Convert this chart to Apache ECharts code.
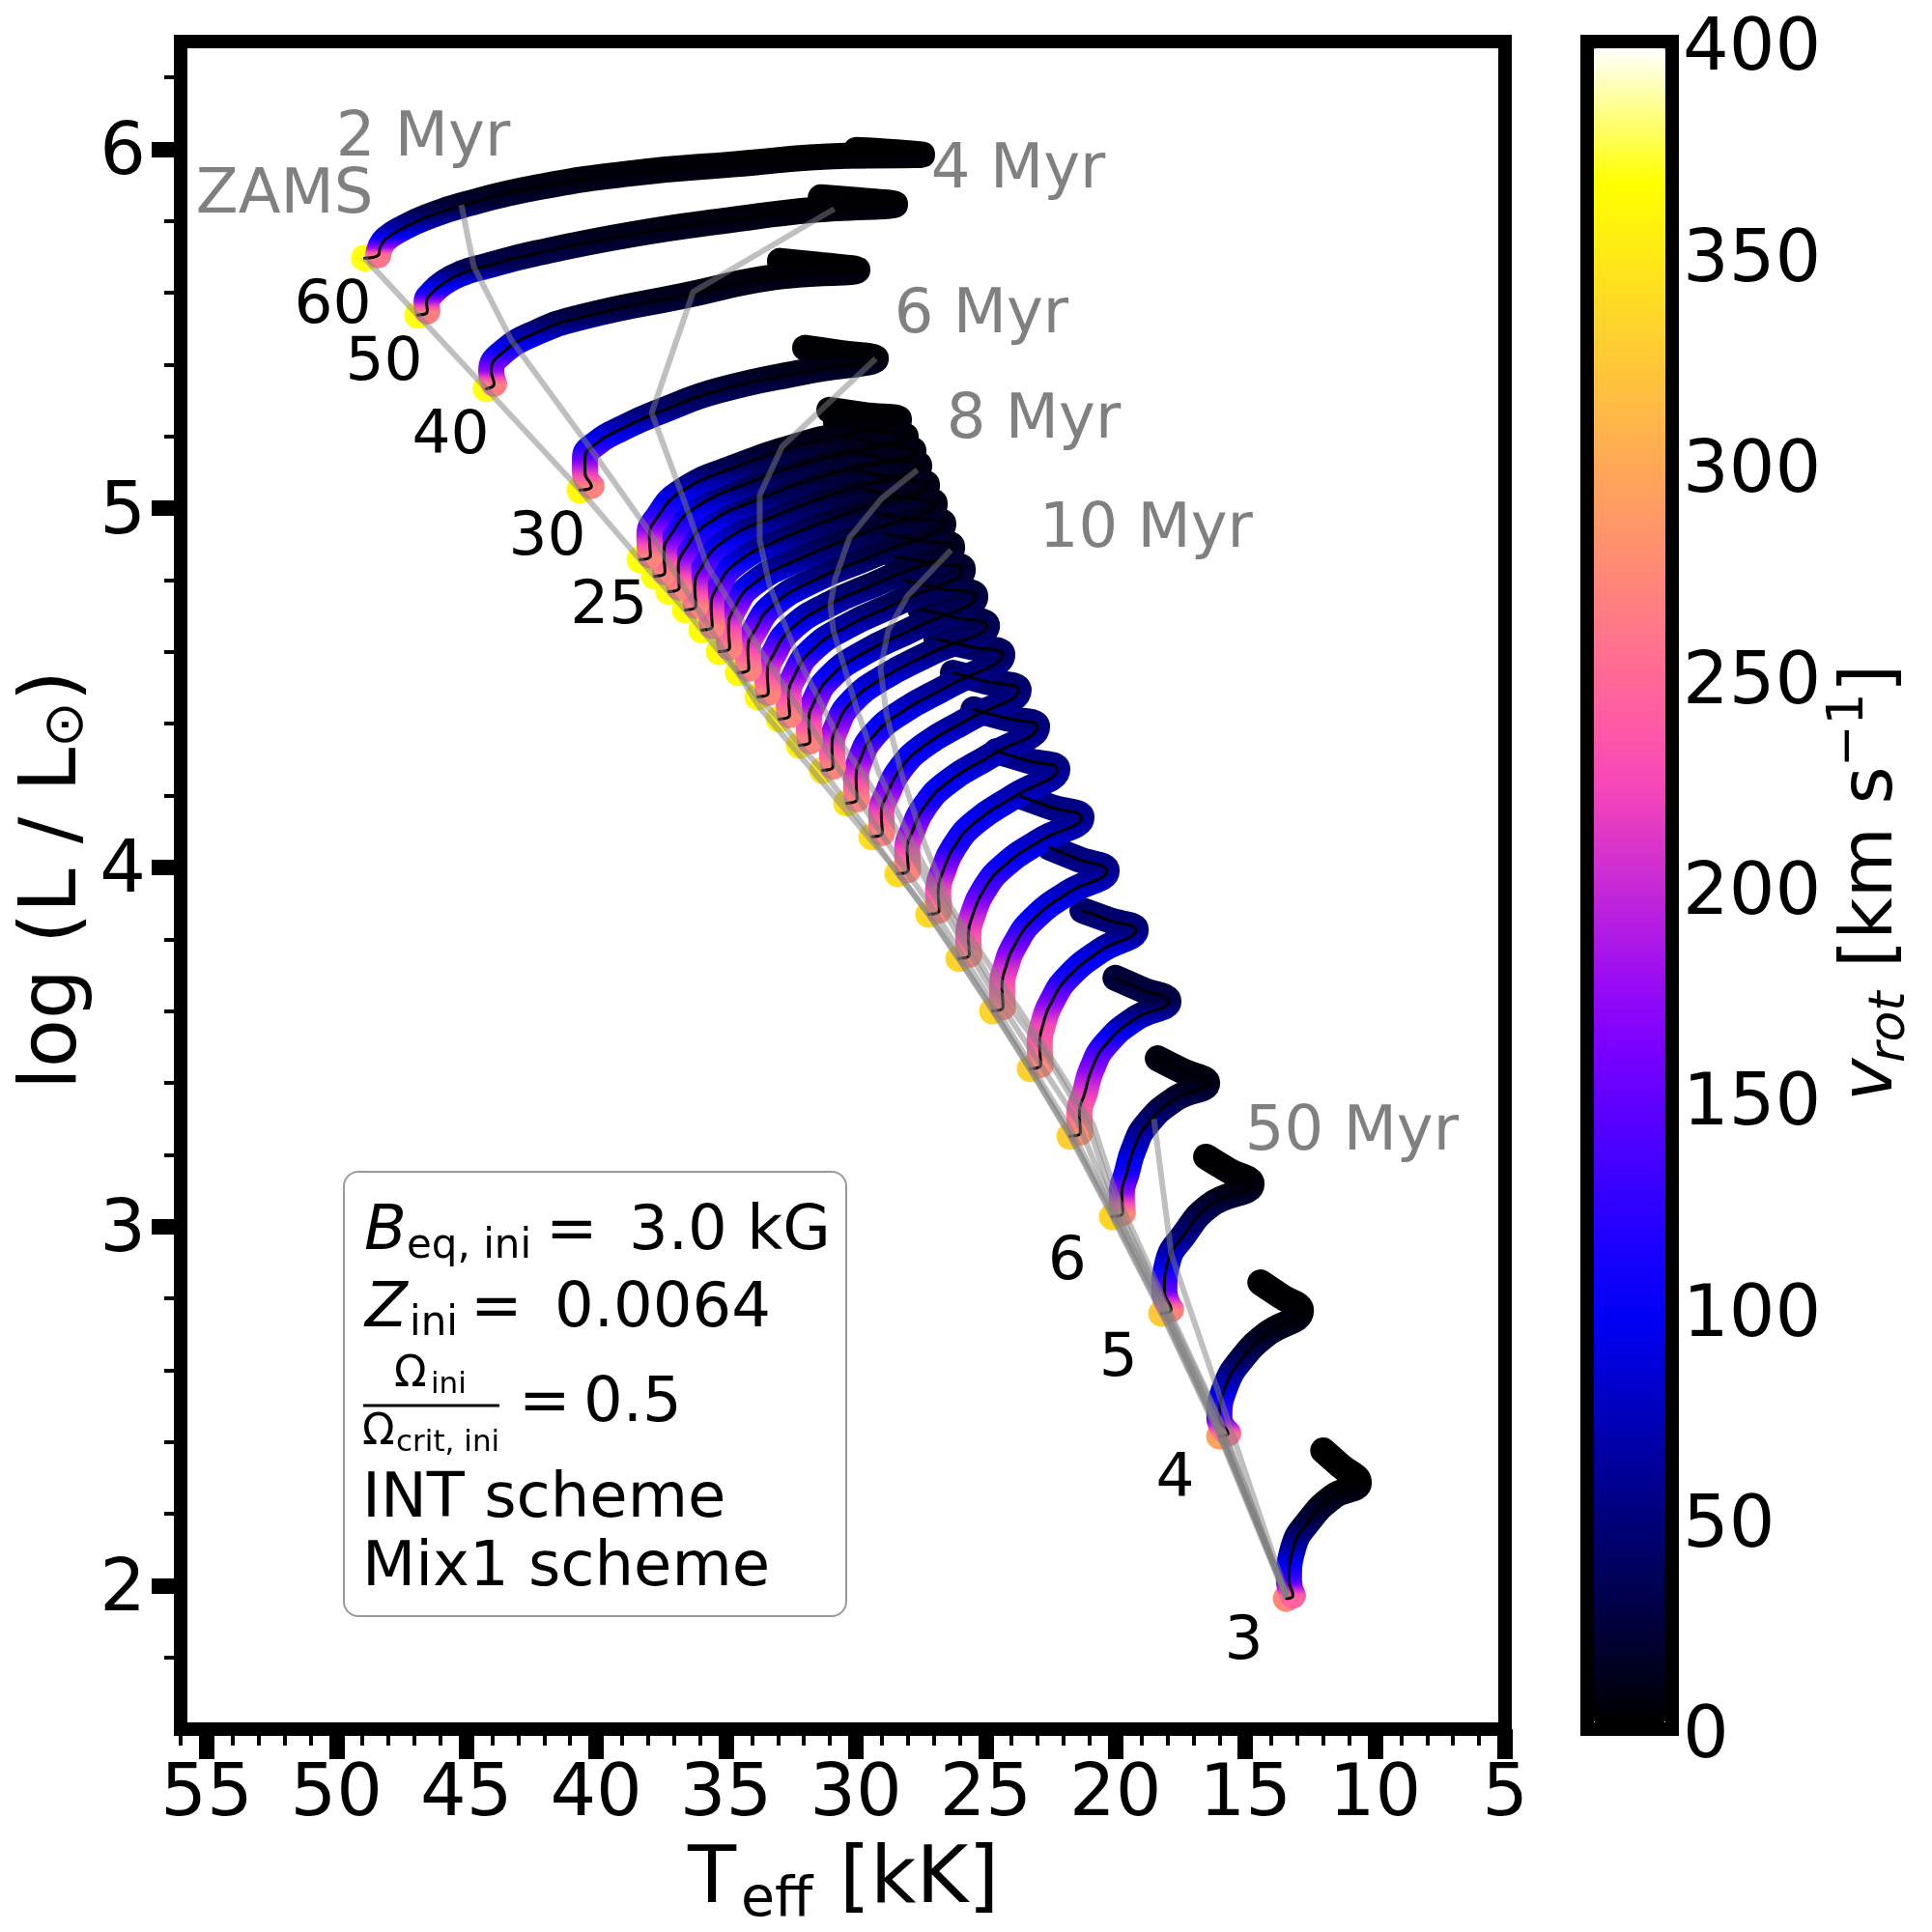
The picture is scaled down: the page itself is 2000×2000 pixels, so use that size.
<!DOCTYPE html>
<html>
<head>
<meta charset="utf-8">
<title>HRD tracks</title>
<script src="https://cdn.jsdelivr.net/npm/echarts@6/dist/echarts.min.js"></script>
<style>
  html, body { margin: 0; padding: 0; background: #fff; }
  #main { width: 2000px; height: 2000px; }
</style>
</head>
<body>
<div id="main"></div>
<script>
// each track: [Teff kK, log L, vrot km/s], ZAMS first, hook end last
const m60 = [[48.92,5.697,370],[48.39,5.705,260],[48.32,5.726,175],[48.10,5.750,110],[47.46,5.780,70],[46.50,5.812,45],[45.12,5.845,22],[42.33,5.893,10],[38.54,5.934,5],[34.74,5.958,3],[30.39,5.982,2],[27.45,5.985,1],[28.75,5.993,1],[29.98,5.998,0]];
const m50 = [[46.87,5.538,370],[46.50,5.549,265],[46.53,5.576,180],[46.35,5.597,120],[45.86,5.629,85],[45.12,5.656,55],[44.38,5.672,35],[42.33,5.710,25],[38.54,5.764,12],[34.74,5.804,6],[31.69,5.831,4],[28.49,5.847,2],[29.94,5.858,2],[31.35,5.866,1]];
const m40 = [[44.23,5.333,370],[43.93,5.347,265],[44.04,5.382,175],[43.67,5.430,115],[42.33,5.489,65],[40.43,5.535,30],[36.64,5.592,12],[33.21,5.643,6],[29.94,5.664,3],[31.43,5.678,2],[32.92,5.689,1]];
const m30 = [[40.62,5.051,365],[40.18,5.062,270],[40.43,5.099,215],[40.43,5.140,150],[40.06,5.177,110],[38.91,5.226,75],[37.38,5.274,45],[35.30,5.328,28],[31.87,5.382,12],[29.23,5.417,5],[30.61,5.433,3],[31.95,5.447,2]];
const m25 = [[38.31,4.857,370],[37.91,4.868,270],[37.95,4.922,195],[37.61,4.978,125],[36.76,5.045,85],[34.72,5.113,35],[31.73,5.185,12],[28.34,5.247,3],[29.68,5.260,2],[31.02,5.274,1]];
const m24 = [[37.75,4.811,370],[37.35,4.822,270],[37.39,4.876,198],[37.07,4.932,130],[36.25,4.999,88],[34.27,5.067,38],[31.36,5.139,14],[28.08,5.199,4],[29.42,5.219,3],[30.76,5.239,2]];
const m23 = [[37.20,4.768,370],[36.80,4.779,270],[36.84,4.833,200],[36.54,4.889,135],[35.74,4.956,90],[33.81,5.024,40],[30.99,5.096,16],[27.78,5.159,5],[29.14,5.180,4],[30.50,5.202,3]];
const m22 = [[36.56,4.717,368],[36.16,4.728,270],[36.20,4.782,205],[35.93,4.838,140],[35.16,4.905,92],[33.32,4.973,44],[30.62,5.045,18],[27.56,5.118,6],[28.90,5.138,5],[30.24,5.159,4]];
const m21 = [[35.93,4.661,368],[35.53,4.672,270],[35.57,4.726,210],[35.32,4.782,150],[34.59,4.849,95],[32.81,4.917,48],[30.21,4.989,20],[27.26,5.064,7],[28.60,5.085,6],[29.94,5.105,5]];
const m20 = [[35.26,4.601,365],[34.86,4.612,270],[34.90,4.666,225],[34.68,4.722,165],[33.97,4.789,95],[32.27,4.857,52],[29.78,4.929,24],[26.96,5.013,8],[28.28,5.032,7],[29.60,5.051,6]];
const m19 = [[34.52,4.542,365],[34.12,4.553,270],[34.16,4.607,225],[33.87,4.663,165],[33.20,4.730,98],[31.68,4.798,58],[29.31,4.870,28],[26.63,4.957,10],[27.93,4.972,9],[29.23,4.986,8]];
const m18 = [[33.77,4.475,362],[33.37,4.486,270],[33.41,4.540,225],[33.15,4.596,165],[32.51,4.663,100],[31.08,4.731,62],[28.83,4.803,32],[26.29,4.892,14],[27.61,4.911,12],[28.93,4.930,10]];
const m17 = [[32.95,4.413,360],[32.55,4.424,270],[32.59,4.478,225],[32.36,4.534,170],[31.75,4.601,102],[30.40,4.669,68],[28.28,4.741,36],[25.88,4.830,20],[27.18,4.848,18],[28.49,4.865,15]];
const m16 = [[32.17,4.340,355],[31.77,4.351,270],[31.81,4.405,225],[31.60,4.461,170],[31.02,4.528,105],[29.73,4.596,74],[27.70,4.668,42],[25.40,4.755,26],[26.74,4.777,23],[28.08,4.798,20]];
const m15 = [[31.28,4.270,350],[30.88,4.281,270],[30.92,4.335,225],[30.74,4.391,170],[30.20,4.458,108],[29.00,4.526,80],[27.10,4.598,50],[24.95,4.674,33],[26.24,4.697,30],[27.52,4.720,26]];
const m14 = [[30.35,4.179,345],[29.95,4.190,270],[29.99,4.244,225],[29.83,4.300,170],[29.32,4.367,110],[28.19,4.435,86],[26.40,4.507,56],[24.36,4.593,40],[25.62,4.615,38],[26.89,4.636,35]];
const m13 = [[29.38,4.085,342],[28.98,4.096,270],[29.02,4.150,228],[28.78,4.206,172],[28.30,4.273,112],[27.34,4.341,90],[25.65,4.413,60],[23.73,4.494,45],[25.00,4.518,42],[26.26,4.542,40]];
const m12 = [[28.38,3.982,340],[27.98,3.993,270],[28.02,4.047,228],[27.81,4.103,175],[27.35,4.170,112],[26.45,4.238,95],[24.84,4.310,65],[23.02,4.392,50],[24.24,4.416,48],[25.47,4.440,45]];
const m11 = [[27.19,3.869,338],[26.79,3.880,270],[26.83,3.934,228],[26.64,3.990,175],[26.22,4.057,112],[25.41,4.125,100],[23.92,4.197,75],[22.24,4.273,55],[23.41,4.298,52],[24.58,4.324,50]];
const m10 = [[26.03,3.746,335],[25.63,3.757,270],[25.67,3.811,230],[25.50,3.867,195],[25.10,3.934,140],[24.33,4.002,105],[22.91,4.074,78],[21.31,4.139,55],[22.48,4.168,53],[23.65,4.198,50]];
const m9 = [[24.73,3.600,335],[24.33,3.611,270],[24.37,3.665,235],[24.23,3.721,205],[23.85,3.788,150],[23.16,3.856,105],[21.86,3.928,80],[20.34,3.991,55],[21.43,4.023,52],[22.53,4.055,50]];
const m8 = [[23.28,3.439,332],[22.88,3.450,275],[22.92,3.504,240],[22.80,3.560,225],[22.45,3.627,165],[21.82,3.695,110],[20.60,3.767,85],[19.22,3.826,48],[20.24,3.853,45],[21.27,3.880,42]];
const m7 = [[21.75,3.251,330],[21.35,3.262,280],[21.39,3.316,245],[21.18,3.372,215],[20.91,3.439,170],[20.38,3.507,120],[19.24,3.579,65],[17.96,3.627,28],[18.98,3.660,25],[20.00,3.692,22]];
const m6 = [[20.12,3.027,335],[19.72,3.038,275],[19.76,3.092,175],[19.57,3.148,110],[19.30,3.215,80],[18.81,3.283,50],[17.71,3.355,25],[16.47,3.399,8],[17.42,3.433,6],[18.37,3.468,5]];
const m5 = [[18.22,2.758,325],[17.86,2.769,270],[18.12,2.820,150],[17.99,2.901,85],[17.40,2.973,50],[16.36,3.059,22],[14.76,3.119,3],[15.65,3.156,2],[16.51,3.194,1]];
const m4 = [[15.99,2.416,295],[15.66,2.424,255],[16.00,2.467,140],[15.76,2.556,75],[15.13,2.632,35],[14.20,2.699,12],[12.86,2.766,2],[13.64,2.806,1],[14.42,2.844,1]];
const m3 = [[13.42,1.964,275],[13.17,1.972,245],[13.32,2.015,130],[13.16,2.104,65],[12.56,2.179,25],[11.63,2.247,8],[10.63,2.287,1],[11.33,2.333,0],[12.00,2.376,0]];

const tracks = [m3, m4, m5, m6, m7, m8, m9, m10, m11, m12, m13, m14, m15, m16, m17, m18, m19, m20, m21, m22, m23, m24, m25, m30, m40, m50, m60];

// isochrones [Teff kK, log L]
const iso2 = [[45.19,5.845],[44.71,5.673],[43.26,5.468],[40.43,5.188],[37.98,4.938],[36.19,4.731],[33.70,4.445],[31.24,4.233],[28.49,3.996],[27.26,3.875],[24.73,3.606],[21.75,3.256],[20.12,3.032],[18.22,2.763],[15.99,2.422],[13.42,1.970]];
const iso4 = [[30.83,5.834],[36.26,5.603],[37.86,5.266],[36.64,5.027],[35.71,4.838],[33.70,4.607],[31.24,4.338],[28.12,3.996],[27.07,3.888],[24.66,3.614],[21.68,3.264],[20.08,3.040],[18.18,2.771],[15.99,2.427],[13.42,1.970]];
const iso6 = [[29.23,5.417],[32.84,5.172],[33.70,5.037],[33.70,4.911],[33.32,4.784],[32.21,4.580],[30.50,4.338],[29.75,4.265],[28.19,4.077],[26.81,3.902],[24.66,3.646],[21.49,3.296],[20.08,3.054],[18.18,2.779],[15.99,2.435],[13.42,1.970]];
const iso8 = [[27.63,5.107],[29.01,5.027],[30.24,4.919],[30.80,4.803],[30.98,4.731],[30.87,4.661],[29.98,4.445],[29.12,4.265],[27.71,4.050],[26.59,3.902],[24.66,3.668],[22.61,3.471],[21.01,3.275],[20.12,3.081],[18.22,2.798],[15.99,2.457],[13.42,1.970]];
const iso10 = [[26.33,4.884],[28.00,4.757],[28.75,4.661],[29.05,4.553],[28.82,4.426],[28.26,4.265],[27.34,4.063],[26.33,3.888],[24.47,3.686],[22.61,3.485],[20.86,3.283],[20.00,3.094],[18.14,2.798],[15.99,2.462],[13.42,1.970]];
const iso50 = [[18.52,3.299],[17.85,2.922],[16.10,2.551],[13.42,1.977]];

// annotations [Teff kK, log L, text]
const massLabels = [[50.14,5.561,'60'],[48.17,5.403,'50'],[45.60,5.198,'40'],[41.88,4.915,'30'],[39.51,4.724,'25'],[21.86,2.897,'6'],[19.89,2.628,'5'],[17.70,2.292,'4'],[15.06,1.840,'3']];
const ageLabels = [[55.43,5.869,'ZAMS'],[50.04,6.028,'2 Myr'],[27.12,5.939,'4 Myr'],[28.54,5.535,'6 Myr'],[26.53,5.242,'8 Myr'],[22.96,4.938,'10 Myr'],[15.03,3.259,'50 Myr']];

const xMajorTicks = [5, 10, 15, 20, 25, 30, 35, 40, 45, 50, 55];
const xMinorTicks = [6,7,8,9,11,12,13,14,16,17,18,19,21,22,23,24,26,27,28,29,31,32,33,34,36,37,38,39,41,42,43,44,46,47,48,49,51,52,53,54,56];
const yMajorTicks = [2, 3, 4, 5, 6];
const yMinorTicks = [1.8,2.2,2.4,2.6,2.8,3.2,3.4,3.6,3.8,4.2,4.4,4.6,4.8,5.2,5.4,5.6,5.8,6.2];

// gnuplot2 sampled every 16 km/s
const vrotColors = ['#000000','#000029','#000052','#00007A','#0000A3','#0000CC','#0000F5','#1800FF','#3800FF','#5800FF','#7800FF','#970AF5','#B71FE0','#D733CC','#F747B8','#FF5CA3','#FF708F','#FF857A','#FF9966','#FFAD52','#FFC23D','#FFD629','#FFEB14','#FFFF00','#FFFF80','#FFFFFF'];

const FONT = 'DejaVu Sans';
const chart = echarts.init(document.getElementById('main'));

function vColor(v) {
  return echarts.color.lerp(v / 400, vrotColors);
}

// baseline-positioned text, for the mathtext pieces
function piece(text, x, baseline, size, extra) {
  return {
    type: 'text',
    x: x,
    y: baseline - 0.25 * size,
    z: 20,
    style: Object.assign({
      text: text, fontFamily: FONT, fontSize: size, fill: '#000',
      align: 'left', verticalAlign: 'middle'
    }, extra || {})
  };
}
const ITALIC = { fontStyle: 'italic' };

chart.setOption({
  animation: false,
  backgroundColor: '#fff',
  grid: [
    { left: 187, top: 43, width: 1371, height: 1747, show: true, borderWidth: 14, borderColor: '#000', backgroundColor: '#fff' },
    { left: 1643, top: 43, width: 88, height: 1747, show: true, borderWidth: 14, borderColor: '#000', backgroundColor: 'transparent' }
  ],
  xAxis: [
    {
      gridIndex: 0, type: 'value', inverse: true, min: 5, max: 56, position: 'bottom', splitLine: { show: false }, axisLine: { show: false },
      axisTick: { show: true, length: 31, lineStyle: { width: 16, color: '#000' }, customValues: xMajorTicks },
      axisLabel: { show: true, customValues: xMajorTicks, margin: 32, fontSize: 75, fontFamily: FONT, color: '#000' }
    },
    {
      gridIndex: 0, type: 'value', inverse: true, min: 5, max: 56, position: 'bottom', splitLine: { show: false }, axisLine: { show: false },
      axisTick: { show: true, length: 17, lineStyle: { width: 4, color: '#000' }, customValues: xMinorTicks },
      axisLabel: { show: false }
    },
    { gridIndex: 1, type: 'value', min: 0, max: 1, show: false }
  ],
  yAxis: [
    {
      gridIndex: 0, type: 'value', min: 1.6, max: 6.3, position: 'left', splitLine: { show: false }, axisLine: { show: false },
      axisTick: { show: true, length: 30, lineStyle: { width: 16, color: '#000' }, customValues: yMajorTicks },
      axisLabel: { show: true, customValues: yMajorTicks, margin: 36, verticalAlign: 'top', lineHeight: 12, fontSize: 75, fontFamily: FONT, color: '#000' }
    },
    {
      gridIndex: 0, type: 'value', min: 1.6, max: 6.3, position: 'left', splitLine: { show: false }, axisLine: { show: false },
      axisTick: { show: true, length: 17, lineStyle: { width: 4, color: '#000' }, customValues: yMinorTicks },
      axisLabel: { show: false }
    },
    {
      gridIndex: 1, type: 'value', min: 0, max: 400, interval: 50, position: 'right', splitLine: { show: false }, axisLine: { show: false }, axisTick: { show: false },
      axisLabel: { show: true, margin: 11, verticalAlign: 'top', lineHeight: 20, fontSize: 75, fontFamily: FONT, color: '#000' }
    }
  ]
});

const toPx = (t, l) => chart.convertToPixel({ xAxisIndex: 0, yAxisIndex: 0 }, [t, l]);

// thick track: vertical gradient along log L, colours taken from vrot of each point
function trackGradient(pts) {
  const top = pts[pts.length - 1], bottom = pts[0];
  const yTop = toPx(top[0], top[1])[1], yBottom = toPx(bottom[0], bottom[1])[1];
  const stops = [];
  for (let i = pts.length - 1; i > 0; i--) {
    const a = pts[i], b = pts[i - 1];
    for (let k = 0; k < 4; k++) {
      const f = k / 4;
      const y = toPx(a[0], a[1] + (b[1] - a[1]) * f)[1];
      stops.push({ offset: (y - yTop) / (yBottom - yTop), color: vColor(a[2] + (b[2] - a[2]) * f) });
    }
  }
  stops.push({ offset: 1, color: vColor(bottom[2]) });
  return { type: 'linear', global: true, x: 0, y: yTop, x2: 0, y2: yBottom, colorStops: stops };
}

const series = [];

series.push({
  type: 'scatter', name: 'ZAMS points', xAxisIndex: 0, yAxisIndex: 0, z: 2, symbolSize: 28,
  itemStyle: { opacity: 1 },
  data: tracks.map(t => t[0])
});

tracks.forEach(t => {
  const pts = t.slice(1);
  series.push({
    type: 'line', xAxisIndex: 0, yAxisIndex: 0, z: 3, smooth: 0.5, showSymbol: false, symbol: 'none',
    data: pts.map(p => [p[0], p[1]]),
    lineStyle: { width: 27, cap: 'round', join: 'round', color: trackGradient(pts) }
  });
});

tracks.forEach(t => {
  series.push({
    type: 'line', xAxisIndex: 0, yAxisIndex: 0, z: 4, smooth: 0.5, showSymbol: false, symbol: 'none',
    data: t.map(p => [p[0], p[1]]),
    lineStyle: { width: 3, color: '#000', cap: 'round', join: 'round' }
  });
});

const zamsLine = tracks.map(t => [t[0][0], t[0][1]]);
[zamsLine, iso2, iso4, iso6, iso8, iso10, iso50].forEach(iso => {
  series.push({
    type: 'line', xAxisIndex: 0, yAxisIndex: 0, z: 5, showSymbol: false, symbol: 'none',
    data: iso,
    lineStyle: { width: 6, color: 'rgba(128,128,128,0.5)', join: 'round' }
  });
});

series.push({
  type: 'scatter', name: 'mass labels', xAxisIndex: 0, yAxisIndex: 0, z: 6, symbolSize: 1,
  itemStyle: { color: 'transparent', opacity: 1 },
  data: massLabels,
  label: { show: true, position: 'inside', formatter: p => p.data[2], fontSize: 63, fontFamily: FONT, color: '#000' }
});
series.push({
  type: 'scatter', name: 'age labels', xAxisIndex: 0, yAxisIndex: 0, z: 6, symbolSize: 1,
  itemStyle: { color: 'transparent', opacity: 1 },
  data: ageLabels,
  label: { show: true, position: 'right', distance: 0, formatter: p => p.data[2], fontSize: 64, fontFamily: FONT, color: '#808080' }
});

chart.setOption({
  visualMap: {
    type: 'continuous', seriesIndex: 0, dimension: 2, min: 0, max: 400,
    left: 1650, top: 50, itemWidth: 74, itemHeight: 1733, padding: 0,
    calculable: false, realtime: false, hoverLink: false, text: null, showLabel: false,
    indicatorSize: 0,
    inRange: { color: vrotColors },
    outOfRange: { color: '#000' }
  },
  series: series,
  graphic: [
    // info box
    { type: 'rect', z: 19, shape: { x: 356, y: 1213, width: 520, height: 460, r: 15 }, style: { fill: '#fff', stroke: '#999', lineWidth: 2 } },
    piece('B', 377, 1292, 64, ITALIC),
    piece('eq, ini', 421, 1302, 42),
    piece('=', 565, 1292, 64),
    piece('3.0 kG', 651, 1292, 64),
    piece('Z', 378, 1372, 64, ITALIC),
    piece('ini', 424, 1382, 42),
    piece('=', 487, 1372, 64),
    piece('0.0064', 574, 1372, 64),
    piece('Ω', 408, 1435, 44),
    piece('ini', 446, 1442, 31),
    { type: 'rect', z: 20, shape: { x: 376, y: 1453.5, width: 141, height: 3 }, style: { fill: '#000' } },
    piece('Ω', 375, 1495, 44),
    piece('crit, ini', 410, 1502, 31),
    piece('=', 537, 1470, 64),
    piece('0.5', 604, 1470, 64),
    piece('INT scheme', 375, 1569, 64),
    piece('Mix1 scheme', 375, 1640, 64),
    // x axis title
    piece('T', 712, 1968, 82),
    piece('eff', 767, 1982, 57),
    piece('[kK]', 869, 1968, 82),
    // y axis title
    {
      type: 'group', x: 77, y: 1128, rotation: Math.PI / 2,
      children: [
        piece('log (L / L', 0, 0, 82),
        piece('⊙', 354, 7, 57),
        piece(')', 402, 0, 82)
      ]
    },
    // colorbar title
    {
      type: 'group', x: 1957, y: 1140, rotation: Math.PI / 2,
      children: [
        piece('v', 0, 0, 75, ITALIC),
        piece('rot', 40, 13, 52, ITALIC),
        piece('[km s', 138, 0, 75),
        piece('−1', 346, -30, 52),
        piece(']', 423, 0, 75)
      ]
    }
  ]
});
</script>
</body>
</html>
